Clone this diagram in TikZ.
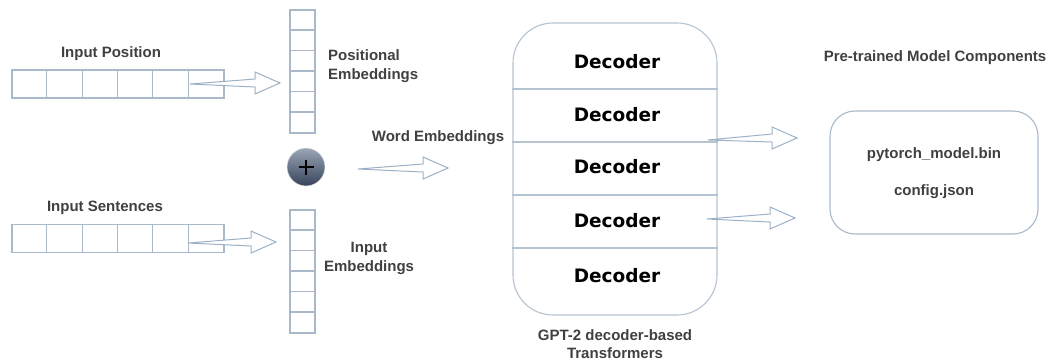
\documentclass[tikz,border=0pt]{standalone}
\usepackage{fontspec}
\setmainfont{Liberation Sans}
\newfontfamily\decfont{DejaVu Sans}
\usetikzlibrary{calc}
\definecolor{boxline}{HTML}{A9B9CA}
\definecolor{decline}{HTML}{B6C3D0}
\definecolor{arrline}{HTML}{9DB1C6}
\definecolor{labtext}{HTML}{404040}
\definecolor{balltop}{HTML}{9AA6B6}
\definecolor{ballbot}{HTML}{36435A}
\tikzset{
  lab/.style={font=\fontsize{15}{19}\selectfont\bfseries, text=labtext, inner sep=0pt, align=center},
  declab/.style={font=\decfont\fontsize{18.5}{22}\selectfont\bfseries, text=black, inner sep=0pt},
  cellrow/.style={draw=boxline, line width=1.1pt, minimum width=212pt, minimum height=28pt, inner sep=0pt},
  cellcol/.style={draw=boxline, line width=1.1pt, minimum width=25pt, minimum height=123pt, inner sep=0pt},
  harr/.style={draw=arrline, line width=1pt, fill=white, line join=miter},
  divline/.style={draw=decline, line width=1.1pt},
}
\newcommand\hollowarrow[2]{%
  \draw[harr] (#1) -- ($(#2)+(-25,-4)$) -- ($(#2)+(-25,-11)$) -- (#2)
     -- ($(#2)+(-25,11)$) -- ($(#2)+(-25,4)$) -- cycle;}
\begin{document}
\begin{tikzpicture}[x=1pt,y=-1pt]
\useasboundingbox (0,0) rectangle (1056,360);
% input rows
\node[cellrow] (rpos) at (118,84) {};
\node[cellrow] (rsen) at (118,238.5) {};
\foreach \i in {1,...,5}{
  \draw[boxline, line width=1.1pt] ($(rpos.north west)+(\i*35.33,0)$) -- ($(rpos.south west)+(\i*35.33,0)$);
  \draw[boxline, line width=1.1pt] ($(rsen.north west)+(\i*35.33,0)$) -- ($(rsen.south west)+(\i*35.33,0)$);
}
\node[lab] (lpos) at (111,54) {Input Position};
\node[lab] (lsen) at (105,208) {Input Sentences};
% embedding columns
\node[cellcol] (cpos) at (302.5,71.5) {};
\node[cellcol] (cinp) at (302.5,271.5) {};
\foreach \i in {1,...,5}{
  \draw[boxline, line width=1.1pt] ($(cpos.north west)+(0,\i*20.5)$) -- ($(cpos.north east)+(0,\i*20.5)$);
  \draw[boxline, line width=1.1pt] ($(cinp.north west)+(0,\i*20.5)$) -- ($(cinp.north east)+(0,\i*20.5)$);
}
\node[lab, align=left, anchor=west] (lpemb) at (328,66) {Positional\\Embeddings};
\node[lab] (liemb) at (369,258) {Input\\Embeddings};
% plus ball
\node[circle, minimum size=38pt, inner sep=0pt, draw=white!80!gray, line width=0.6pt,
      top color=balltop, bottom color=ballbot] (plus) at (306,167) {};
\draw[black, line width=1.8pt] ($(plus)+(-7.5,0)$) -- ($(plus)+(7.5,0)$);
\draw[black, line width=1.8pt] ($(plus)+(0,-7.5)$) -- ($(plus)+(0,7.5)$);
\node[lab] (lword) at (438,138) {Word Embeddings};
% decoder stack
\node[draw=decline, line width=1.1pt, rounded corners=40pt, minimum width=204pt, minimum height=292pt, inner sep=0pt] (dec) at (615,169) {};
\foreach \y in {89,142,195,248}{
  \draw[divline] (dec.west |- 0,\y) -- (dec.east |- 0,\y);
}
\node[declab] (d1) at (617,62) {Decoder};
\node[declab] (d2) at (617,115) {Decoder};
\node[declab] (d3) at (617,167) {Decoder};
\node[declab] (d4) at (617,221) {Decoder};
\node[declab] (d5) at (617,276) {Decoder};
\node[lab, font=\fontsize{15}{18}\selectfont\bfseries] (lgpt) at (615,344) {GPT-2 decoder-based\\Transformers};
% components
\node[lab] (lcomp) at (935,58) {Pre-trained Model Components};
\node[draw=boxline, line width=1.1pt, rounded corners=25pt, minimum width=208pt, minimum height=123pt, inner sep=0pt] (comp) at (934,172.5) {};
\node[lab] (pyt) at (934,155) {pytorch\_model.bin};
\node[lab] (cfg) at (934,192) {config.json};
% arrow coordinates
\coordinate (a1t) at (190,84);  \coordinate (a1h) at (280,83);
\coordinate (a2t) at (188,243); \coordinate (a2h) at (276,242);
\coordinate (a3t) at (358,169); \coordinate (a3h) at (448,168);
\coordinate (a4t) at (708,140); \coordinate (a4h) at (797,138);
\coordinate (a5t) at (707,219); \coordinate (a5h) at (795,218);
\hollowarrow{a1t}{a1h}
\hollowarrow{a2t}{a2h}
\hollowarrow{a3t}{a3h}
\hollowarrow{a4t}{a4h}
\hollowarrow{a5t}{a5h}
\end{tikzpicture}
\end{document}
